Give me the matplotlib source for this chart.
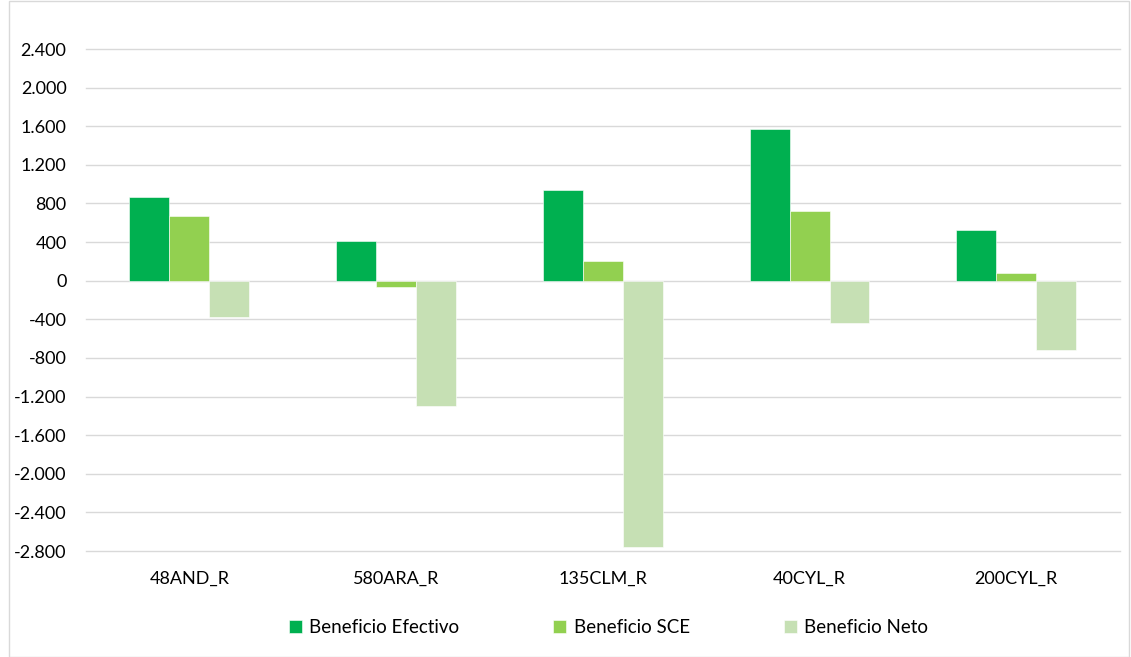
import matplotlib.pyplot as plt
import numpy as np
from matplotlib.ticker import FuncFormatter
from matplotlib.patches import Rectangle

plt.rcParams['font.family'] = ['Lato', 'DejaVu Sans']

# datos
categorias = ["48AND_R", "580ARA_R", "135CLM_R", "40CYL_R", "200CYL_R"]
beneficio_efectivo = [864, 414, 940, 1568, 525]
beneficio_sce = [667, -68, 200, 718, 83]
beneficio_neto = [-373, -1298, -2762, -435, -722]
series = ["Beneficio Efectivo", "Beneficio SCE", "Beneficio Neto"]
colores = ["#00B050", "#92D050", "#C6E0B4"]

fig = plt.figure(figsize=(11.31, 6.57), dpi=100)
ax = fig.add_axes([0.076, 0.1613, 0.914, 0.7641])

x = np.arange(len(categorias))
w = 0.193
for i, (vals, nombre, col) in enumerate(zip([beneficio_efectivo, beneficio_sce, beneficio_neto], series, colores)):
    ax.bar(x + (i - 1) * w, vals, w, color=col, label=nombre, zorder=3,
           edgecolor="white", linewidth=0.4)

ax.set_xlim(-0.5, len(categorias) - 0.5)
ax.set_ylim(-2800, 2400)
ax.set_yticks(np.arange(-2800, 2401, 400))
ax.yaxis.set_major_formatter(FuncFormatter(lambda v, p: f"{int(v):,}".replace(",", ".")))
ax.set_xticks(x)
ax.set_xticklabels(categorias)
ax.tick_params(axis="y", length=0, pad=14, labelsize=13, labelcolor="#000000")
ax.tick_params(axis="x", length=0, pad=14, labelsize=13, labelcolor="#000000")
ax.grid(axis="y", color="#D9D9D9", linewidth=1, zorder=0)
for gl in ax.get_ygridlines():
    gl.set_clip_on(False)
for s in ax.spines.values():
    s.set_visible(False)

fig.legend(loc="center", bbox_to_anchor=(0.538, 0.045), ncol=3, frameon=False,
           fontsize=13.5, handlelength=0.7, handleheight=0.7, handletextpad=0.4,
           columnspacing=5.0)

# borde del grafico
fig.patches.append(Rectangle((0.008, 0.0), 0.99, 0.998, transform=fig.transFigure,
                             fill=False, edgecolor="#D9D9D9", linewidth=1))

fig.savefig("out.png", dpi=100)
